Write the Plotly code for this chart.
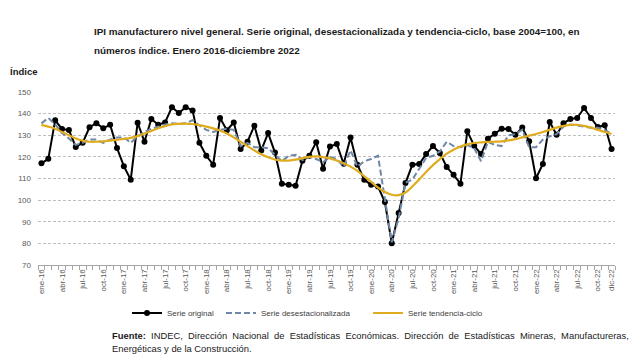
import plotly.graph_objects as go

meses = ["ene", "feb", "mar", "abr", "may", "jun", "jul", "ago", "sep", "oct", "nov", "dic"]
anios = ["16", "17", "18", "19", "20", "21", "22"]
categorias = [f"{m}-{a}" for a in anios for m in meses]

serie_original = [
    117.0, 119.1, 136.9, 132.9, 132.4, 124.6, 126.5, 133.7, 135.6, 133.2, 134.9, 124.1,
    115.7, 109.4, 135.8, 127.0, 137.5, 134.9, 135.9, 143.0, 140.3, 143.0, 141.5, 126.5,
    120.5, 116.4, 138.0, 132.3, 135.9, 123.6, 127.0, 134.4, 123.0, 131.0, 122.0, 107.6,
    107.1, 106.6, 118.2, 120.5, 126.8, 114.5, 124.8, 125.9, 116.8, 129.0, 116.4, 109.4,
    107.1, 106.3, 99.1, 80.1, 94.0, 107.9, 116.4, 116.7, 121.3, 125.0, 121.8, 115.3,
    111.7, 107.6, 131.8, 125.2, 121.3, 128.4, 130.7, 133.0, 132.9, 130.2, 133.6, 127.2,
    110.1, 116.7, 136.1, 130.2, 135.6, 137.5, 138.0, 142.6, 138.0, 133.8, 134.6, 123.6,
]

serie_desestacionalizada = [
    135.5, 138.0, 135.0, 131.0, 128.5, 125.5, 126.5, 128.0, 128.0, 126.5, 128.0, 129.0,
    129.0, 126.5, 129.5, 131.5, 133.0, 134.0, 135.0, 135.5, 135.2, 135.5, 137.0, 134.5,
    132.5, 131.5, 132.5, 133.0, 132.5, 125.0, 126.5, 124.5, 124.5, 124.0, 121.0, 118.0,
    120.5, 121.0, 118.5, 120.0, 119.0, 117.5, 120.0, 119.0, 115.5, 123.0, 115.5, 118.0,
    119.0, 120.5, 100.5, 80.5, 91.5, 108.0, 109.5, 114.5, 119.5, 120.5, 122.5, 127.0,
    125.0, 124.5, 125.5, 124.0, 118.0, 127.0, 125.5, 125.0, 130.0, 130.5, 132.5, 124.5,
    124.5, 128.0, 129.5, 130.5, 134.0, 135.0, 134.5, 134.0, 133.5, 133.5, 132.5, 130.5,
]

serie_tendencia = [
    134.8, 134.0, 133.0, 131.5, 130.0, 128.5, 127.5, 127.0, 127.0, 127.2, 127.5, 127.9,
    128.3, 128.8, 129.6, 130.8, 132.0, 133.2, 134.2, 135.0, 135.3, 135.4, 135.2, 134.7,
    134.0, 133.2, 132.2, 130.8, 129.0, 127.0, 125.0, 123.0, 121.2, 119.8, 118.8, 118.3,
    118.3, 118.7, 119.4, 120.0, 120.2, 119.9, 119.3, 118.3, 117.0, 115.5, 113.5, 111.0,
    108.4, 105.8, 103.8, 102.5, 102.3, 103.5, 106.3, 109.6, 113.0, 116.2, 119.0, 121.5,
    123.3, 124.8, 125.8, 126.4, 126.7, 126.9, 127.0, 127.2, 127.6, 128.2, 129.0, 129.8,
    130.6, 131.5, 132.5, 133.5, 134.3, 134.8, 134.8, 134.3, 133.5, 132.5, 131.5, 130.6,
]

tick_idx = list(range(0, 84, 3)) + [83]
tick_text = [categorias[i] for i in tick_idx]
y_ticks = [70, 80, 90, 100, 110, 120, 130, 140, 150]

x = list(range(len(categorias)))

# plot-area geometry in pixels
L, R, T, B = 38, 24, 92, 95
W = 639 - L - R
H = 360 - T - B


def px(xp):
    return (xp - L) / W


def py(yp):
    return (360 - B - yp) / H


fig = go.Figure()
fig.add_trace(go.Scatter(
    x=x, y=serie_original, name="Serie original", mode="lines+markers",
    line=dict(color="#000000", width=2),
    marker=dict(color="#000000", size=6),
    legend="legend",
    customdata=categorias, hovertemplate="%{customdata}: %{y}<extra></extra>",
))
fig.add_trace(go.Scatter(
    x=x, y=serie_desestacionalizada, name="Serie desestacionalizada", mode="lines",
    line=dict(color="#6f87a6", width=2, dash="6px,3px"),
    legend="legend2",
    customdata=categorias, hovertemplate="%{customdata}: %{y}<extra></extra>",
))
fig.add_trace(go.Scatter(
    x=x, y=serie_tendencia, name="Serie tendencia-ciclo", mode="lines",
    line=dict(color="#e0ac1f", width=2.2, shape="spline"),
    legend="legend3",
    customdata=categorias, hovertemplate="%{customdata}: %{y}<extra></extra>",
))

axis_font = dict(family="Liberation Sans, Arial, sans-serif", size=8, color="#595959")
title_font = dict(family="Liberation Sans, Arial, sans-serif", size=9.9, color="#1a1a1a")
legend_font = dict(family="Liberation Sans, Arial, sans-serif", size=8, color="#404040")


def legend_at(xp):
    return dict(orientation="h", x=px(xp), y=py(313), xanchor="left", yanchor="middle",
                font=legend_font, itemwidth=30, bgcolor="rgba(0,0,0,0)")


fuente_words = ("INDEC, Dirección Nacional de Estadísticas Económicas. Dirección de "
                "Estadísticas Mineras, Manufactureras,").split(" ")
fuente_line1 = "<b>Fuente:</b>\u00a0 " + "\u00a0 ".join(fuente_words)

fig.update_layout(
    width=639, height=360,
    margin=dict(l=L, r=R, t=T, b=B, pad=0),
    paper_bgcolor="white", plot_bgcolor="white",
    showlegend=True,
    legend=legend_at(127),
    legend2=legend_at(221),
    legend3=legend_at(368),
    xaxis=dict(
        range=[-0.5, 83.5], tickmode="array", tickvals=tick_idx, ticktext=tick_text,
        tickangle=-90, tickfont=axis_font, ticks="", showgrid=False,
        showline=True, linecolor="#a6a6a6", linewidth=1, zeroline=False,
        minor=dict(tickmode="linear", tick0=-0.5, dtick=1, ticks="outside",
                   ticklen=4, tickcolor="#a6a6a6", showgrid=False),
        fixedrange=True,
    ),
    yaxis=dict(
        range=[70, 150], tickmode="array", tickvals=y_ticks,
        tickfont=axis_font, ticks="", showline=False, zeroline=False,
        showgrid=True, gridcolor="#bfbfbf", gridwidth=1, griddash="3px,2px",
        ticklabelstandoff=6, fixedrange=True,
    ),
    annotations=[
        dict(text="<b>IPI manufacturero nivel general. Serie original, desestacionalizada y tendencia-ciclo, base 2004=100, en</b>",
             xref="paper", yref="paper", x=px(92), y=py(32), xanchor="left", yanchor="middle",
             showarrow=False, font=title_font),
        dict(text="<b>números índice. Enero 2016-diciembre 2022</b>",
             xref="paper", yref="paper", x=px(92), y=py(50), xanchor="left", yanchor="middle",
             showarrow=False, font=title_font),
        dict(text="<b>Índice</b>",
             xref="paper", yref="paper", x=px(8), y=py(71), xanchor="left", yanchor="middle",
             showarrow=False, font=dict(family="Liberation Sans, Arial, sans-serif", size=9.5, color="#1a1a1a")),
        dict(text=fuente_line1,
             xref="paper", yref="paper", x=px(110), y=py(335), xanchor="left", yanchor="middle",
             showarrow=False, font=dict(family="Liberation Sans, Arial, sans-serif", size=9.4, color="#1a1a1a")),
        dict(text="Energéticas y de la Construcción.",
             xref="paper", yref="paper", x=px(110), y=py(348), xanchor="left", yanchor="middle",
             showarrow=False, font=dict(family="Liberation Sans, Arial, sans-serif", size=9.4, color="#1a1a1a")),
    ],
)

fig.write_html("out.html", config={"displayModeBar": False},
               post_script="document.body.style.margin='0';document.body.style.padding='0';")
